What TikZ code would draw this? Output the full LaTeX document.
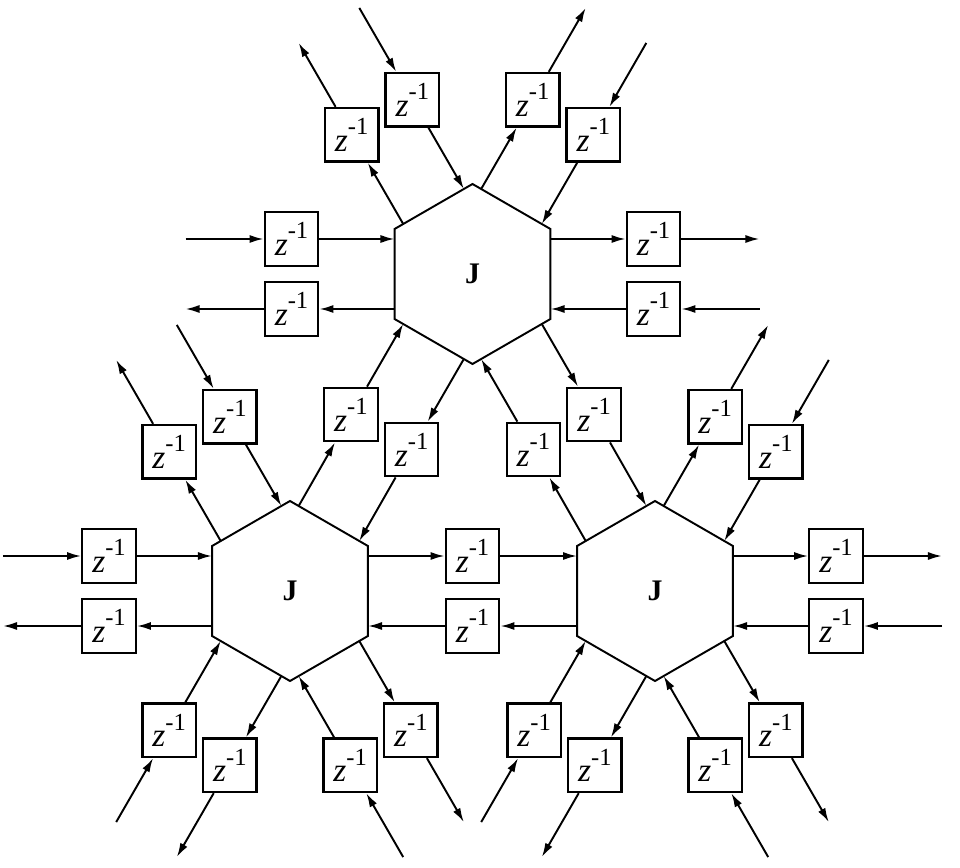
\documentclass[tikz,border=0pt]{standalone}
\usepackage{fontspec}
\setmainfont{Liberation Serif}
\usetikzlibrary{arrows.meta,shapes.geometric,calc}

\newcommand{\zinv}{\textit{z}\raisebox{0.5em}{\fontsize{14}{14}\selectfont -1}}

\begin{document}
\begin{tikzpicture}[x=1cm,y=1cm,>={Latex[length=8pt,width=4.6pt]},line width=1.1pt,
    junction/.style={draw,regular polygon,regular polygon sides=6,shape border rotate=30,
      minimum size=3.6cm,inner sep=0pt,outer sep=0pt,font=\fontsize{17}{20}\selectfont\bfseries},
    delay/.style={draw,line width=1.3pt,minimum size=1.07cm,inner sep=0pt,
      font=\fontsize{19}{20}\selectfont}]
  \useasboundingbox (0,0) rectangle (19.2,17.34);

  % three junctions
  \node[junction] (jt) at (9.45,11.86) {J};
  \node[junction] (jl) at (5.8,5.52) {J};
  \node[junction] (jr) at (13.1,5.52) {J};

  % free sides: out on the ccw half, in on the cw half
  \foreach \j/\a in {jt/0,jt/60,jt/120,jt/180,jl/120,jl/180,jl/240,jl/300,jr/0,jr/60,jr/240,jr/300} {
    \coordinate (\j-\a-os) at ($(\j)+(\a:1.559)+(\a+90:0.7)$);
    \node[delay] (\j-\a-ob) at ($(\j)+(\a:3.62)+(\a+90:0.7)$) {\zinv};
    \coordinate (\j-\a-oe) at ($(\j)+(\a:5.74)+(\a+90:0.7)$);
    \draw[->] (\j-\a-os) -- (\j-\a-ob);
    \draw[->] (\j-\a-ob) -- (\j-\a-oe);
    \coordinate (\j-\a-is) at ($(\j)+(\a:5.74)+(\a-90:0.7)$);
    \node[delay] (\j-\a-ib) at ($(\j)+(\a:3.62)+(\a-90:0.7)$) {\zinv};
    \coordinate (\j-\a-ie) at ($(\j)+(\a:1.559)+(\a-90:0.7)$);
    \draw[->] (\j-\a-is) -- (\j-\a-ib);
    \draw[->] (\j-\a-ib) -- (\j-\a-ie);
  }

  % links between junctions, one delay each way
  \foreach \p/\a/\q in {jt/240/jl,jt/300/jr,jl/0/jr} {
    \coordinate (\p-\a-os) at ($(\p)+(\a:1.559)+(\a+90:0.7)$);
    \node[delay] (\p-\a-ob) at ($(\p)+(\a:3.65)+(\a+90:0.7)$) {\zinv};
    \coordinate (\p-\a-oe) at ($(\q)+(\a+180:1.559)+(\a+90:0.7)$);
    \draw[->] (\p-\a-os) -- (\p-\a-ob);
    \draw[->] (\p-\a-ob) -- (\p-\a-oe);
    \coordinate (\p-\a-is) at ($(\q)+(\a+180:1.559)+(\a-90:0.7)$);
    \node[delay] (\p-\a-ib) at ($(\p)+(\a:3.65)+(\a-90:0.7)$) {\zinv};
    \coordinate (\p-\a-ie) at ($(\p)+(\a:1.559)+(\a-90:0.7)$);
    \draw[->] (\p-\a-is) -- (\p-\a-ib);
    \draw[->] (\p-\a-ib) -- (\p-\a-ie);
  }
\end{tikzpicture}
\end{document}
